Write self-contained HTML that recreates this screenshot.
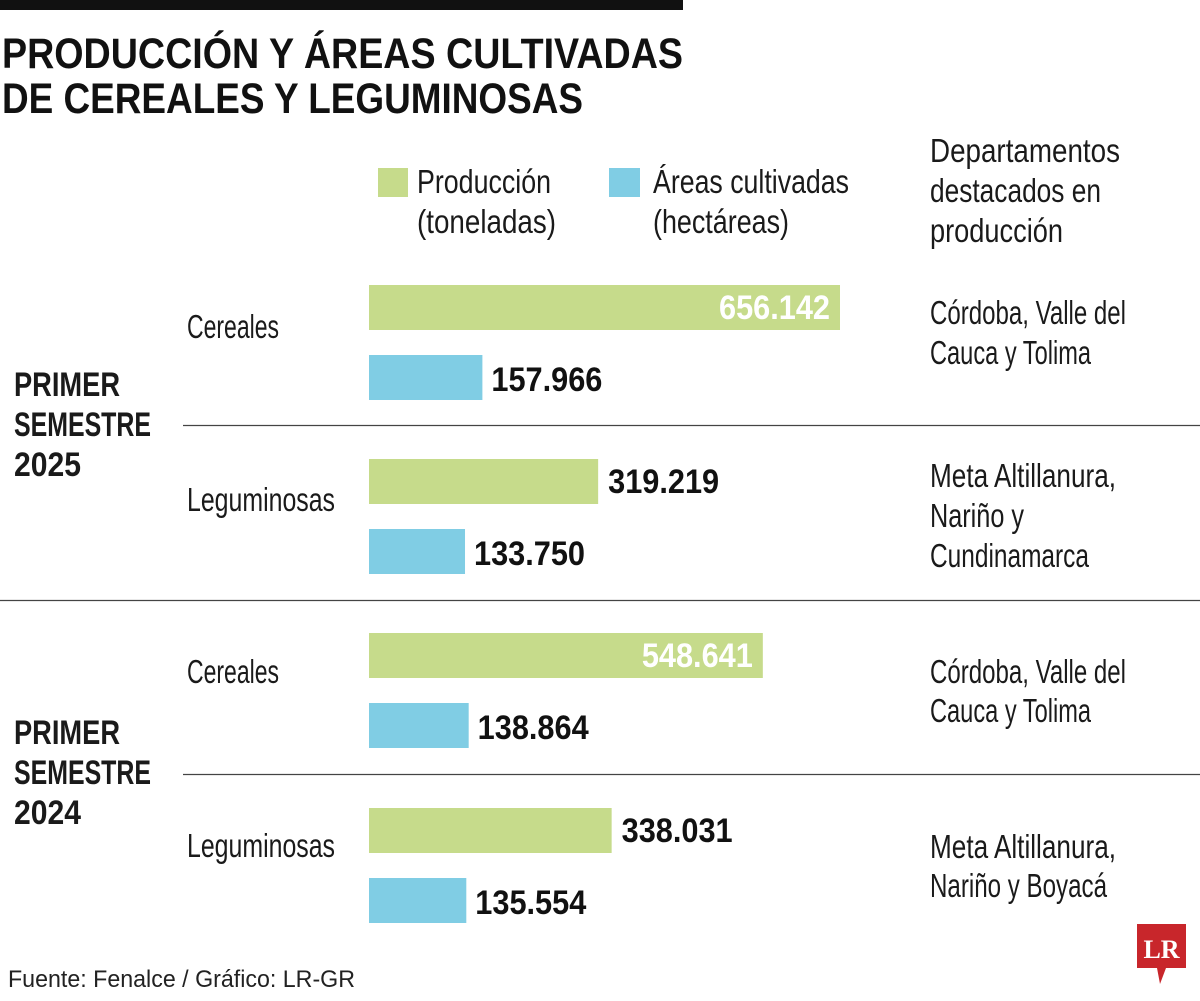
<!DOCTYPE html>
<html><head><meta charset="utf-8"><style>
html,body{margin:0;padding:0;background:#fff;}
svg{display:block;font-family:"Liberation Sans Narrow","Liberation Sans",sans-serif;}
.t{font-size:33px;}
.b{font-weight:bold;font-size:34px;}
</style></head><body>
<svg id="chart" width="1200" height="1001" viewBox="0 0 1200 1001" fill="#1a1a1a">
<rect x="0" y="0" width="683" height="10" fill="#111"/>
<text x="2" y="68" font-size="43" font-weight="bold" fill="#111" textLength="681" lengthAdjust="spacingAndGlyphs">PRODUCCIÓN Y ÁREAS CULTIVADAS</text>
<text x="2" y="113" font-size="43" font-weight="bold" fill="#111" textLength="581" lengthAdjust="spacingAndGlyphs">DE CEREALES Y LEGUMINOSAS</text>

<g>
<rect x="378" y="168" width="30" height="29" fill="#c6db8b"/>
<text class="t" x="417" y="193" textLength="134" lengthAdjust="spacingAndGlyphs">Producción</text>
<text class="t" x="417" y="233" textLength="139" lengthAdjust="spacingAndGlyphs">(toneladas)</text>
<rect x="609" y="168" width="31" height="29" fill="#80cde4"/>
<text class="t" x="653" y="193" textLength="196" lengthAdjust="spacingAndGlyphs">Áreas cultivadas</text>
<text class="t" x="653" y="233" textLength="136" lengthAdjust="spacingAndGlyphs">(hectáreas)</text>
</g>
<text class="t" x="930" y="162" textLength="190" lengthAdjust="spacingAndGlyphs">Departamentos</text>
<text class="t" x="930" y="202" textLength="171" lengthAdjust="spacingAndGlyphs">destacados en</text>
<text class="t" x="930" y="242" textLength="133" lengthAdjust="spacingAndGlyphs">producción</text>

<line x1="183" y1="425.5" x2="1200" y2="425.5" stroke="#444" stroke-width="1.3"/>
<line x1="0" y1="600.5" x2="1200" y2="600.5" stroke="#444" stroke-width="1.3"/>
<line x1="183" y1="774.5" x2="1200" y2="774.5" stroke="#444" stroke-width="1.3"/>

<g>
<text class="b" x="14" y="396" textLength="106" lengthAdjust="spacingAndGlyphs">PRIMER</text>
<text class="b" x="14" y="436" textLength="137" lengthAdjust="spacingAndGlyphs">SEMESTRE</text>
<text class="b" x="14" y="476" textLength="67" lengthAdjust="spacingAndGlyphs">2025</text>
</g>
<g>
<text class="b" x="14" y="744" textLength="106" lengthAdjust="spacingAndGlyphs">PRIMER</text>
<text class="b" x="14" y="784" textLength="137" lengthAdjust="spacingAndGlyphs">SEMESTRE</text>
<text class="b" x="14" y="824" textLength="67" lengthAdjust="spacingAndGlyphs">2024</text>
</g>

<g id="bars"></g>

<g>
<text class="t" x="930" y="324" textLength="196" lengthAdjust="spacingAndGlyphs">Córdoba, Valle del</text>
<text class="t" x="930" y="364" textLength="161" lengthAdjust="spacingAndGlyphs">Cauca y Tolima</text>
<text class="t" x="930" y="487" textLength="186" lengthAdjust="spacingAndGlyphs">Meta Altillanura,</text>
<text class="t" x="930" y="527" textLength="94" lengthAdjust="spacingAndGlyphs">Nariño y</text>
<text class="t" x="930" y="567" textLength="159" lengthAdjust="spacingAndGlyphs">Cundinamarca</text>
<text class="t" x="930" y="683" textLength="196" lengthAdjust="spacingAndGlyphs">Córdoba, Valle del</text>
<text class="t" x="930" y="722" textLength="161" lengthAdjust="spacingAndGlyphs">Cauca y Tolima</text>
<text class="t" x="930" y="858" textLength="186" lengthAdjust="spacingAndGlyphs">Meta Altillanura,</text>
<text class="t" x="930" y="897" textLength="177" lengthAdjust="spacingAndGlyphs">Nariño y Boyacá</text>
</g>

<text x="8" y="987" font-size="24" fill="#222" textLength="347" lengthAdjust="spacingAndGlyphs">Fuente: Fenalce / Gráfico: LR-GR</text>

<g>
<path d="M1137 924 H1186 V968 H1166 L1160 984 L1157 968 H1137 Z" fill="#c8262b"/>
<text x="1161.5" y="958" font-family="Liberation Serif,serif" font-weight="bold" font-size="26" fill="#fff" text-anchor="middle">LR</text>
</g>
</svg>
<script>
const categories = ["Cereales","Leguminosas","Cereales","Leguminosas"];
const produccion = [656142, 319219, 548641, 338031];
const areas = [157966, 133750, 138864, 135554];
const produccionLabels = ["656.142","319.219","548.641","338.031"];
const areasLabels = ["157.966","133.750","138.864","135.554"];

const NS = "http://www.w3.org/2000/svg";
const g = document.getElementById("bars");
const x0 = 369, scale = 471 / 656142;
function xw(v){ return v * scale; }
const groupTop = [285, 459, 633, 808];
const labelY = [338, 511, 683, 857];
function mk(tag, attrs){ const e = document.createElementNS(NS, tag); for (const k in attrs) e.setAttribute(k, attrs[k]); return e; }
categories.forEach((c, i) => {
  const lab = mk("text", {x:187, y:labelY[i], "class":"t", textLength: c === "Cereales" ? 92 : 148, lengthAdjust:"spacingAndGlyphs"});
  lab.textContent = c;
  
  
  g.appendChild(lab);

  const y1 = groupTop[i];
  const w1 = xw(produccion[i]);
  const r1 = mk("rect", {x:x0, y:y1, width:w1, height:45, fill:"#c6db8b"});
  
  
  g.appendChild(r1);
  const inside = w1 > 350;
  const t1 = mk("text", {x: inside ? x0 + w1 - 10 : x0 + w1 + 10, y: y1 + 34, "class":"b", "text-anchor": inside ? "end" : "start", style: "fill:" + (inside ? "#fff" : "#111"), textLength:111, lengthAdjust:"spacingAndGlyphs"});
  t1.textContent = produccionLabels[i];
  
  
  g.appendChild(t1);

  const y2 = y1 + 70;
  const w2 = xw(areas[i]);
  const r2 = mk("rect", {x:x0, y:y2, width:w2, height:45, fill:"#80cde4"});
  
  
  g.appendChild(r2);
  const t2 = mk("text", {x: x0 + w2 + 9, y: y2 + 36, "class":"b", style:"fill:#111", textLength:111, lengthAdjust:"spacingAndGlyphs"});
  t2.textContent = areasLabels[i];
  
  
  g.appendChild(t2);
});
</script>
</body></html>
